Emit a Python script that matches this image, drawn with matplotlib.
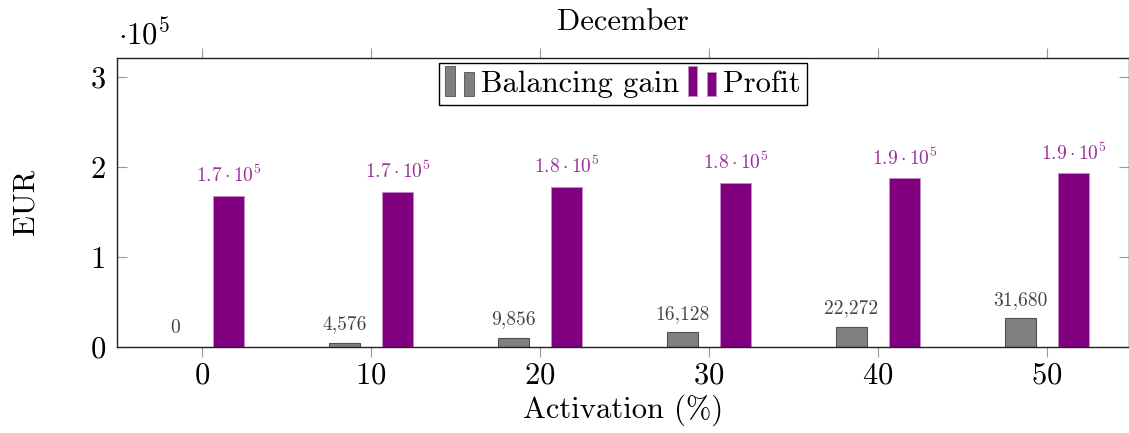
import matplotlib
matplotlib.use("Agg")
import matplotlib.pyplot as plt
import numpy as np
from matplotlib.patches import Rectangle, Patch
from matplotlib.legend_handler import HandlerBase
from matplotlib.ticker import FuncFormatter

# Data (EUR)
activation = [0, 10, 20, 30, 40, 50]
balancing_gain = [0, 4576, 9856, 16128, 22272, 31680]
profit = [168000, 172600, 177500, 182200, 187400, 193000]
series_names = ["Balancing gain", "Profit"]

plt.rcParams.update({
    "font.family": "serif",
    "font.serif": ["cmr10"],
    "mathtext.fontset": "cm",
    "axes.formatter.use_mathtext": True,
    "axes.unicode_minus": False,
})

GRAY, GRAY_EDGE, GRAY_TXT = "#808080", "#505050", "#444444"
PURPLE, PURPLE_EDGE, PURPLE_TXT = "#800080", "#c58ac5", "#9a2f9a"
BIG, SMALL = 22, 14

W, H = 1129, 433
fig = plt.figure(figsize=(W / 100, H / 100), dpi=100)
ax = fig.add_axes([117 / W, 1 - 347 / H, (1129 - 117) / W, (347 - 58) / H])

x = np.array(activation, dtype=float)
bw, off = 1.83, 1.57
ax.bar(x - off, balancing_gain, bw, color=GRAY, edgecolor=GRAY_EDGE, linewidth=0.8, zorder=2)
ax.bar(x + off, profit, bw, color=PURPLE, edgecolor=PURPLE_EDGE, linewidth=0.6, zorder=2)

for xi, v in zip(x, balancing_gain):
    ax.annotate(f"{v:,}", xy=(xi - off, v), xytext=(0, 7), textcoords="offset points",
                ha="center", va="bottom", fontsize=SMALL, color=GRAY_TXT)
for xi, v in zip(x, profit):
    ax.annotate(rf"${v / 1e5:.1f}\cdot10^{{5}}$", xy=(xi + off, v), xytext=(0, 7),
                textcoords="offset points", ha="center", va="bottom", fontsize=SMALL,
                color=PURPLE_TXT)

ax.set_xlim(-5.03, 54.85)
ax.set_ylim(0, 3.21e5)
ax.set_xticks(activation)
ax.set_yticks([0, 1e5, 2e5, 3e5])
ax.yaxis.set_major_formatter(FuncFormatter(lambda v, p: f"{v / 1e5:g}"))

ax.tick_params(axis="x", direction="out", length=7.2, width=0.8, color="#999999",
               top=True, labeltop=False, labelsize=BIG, pad=4)
ax.tick_params(axis="y", direction="in", length=7.2, width=0.8, color="#999999",
               right=True, labelsize=BIG, pad=8)
for s in ax.spines.values():
    s.set_color("#222222")
    s.set_linewidth(1.0)


class TwoBarHandler(HandlerBase):
    """Legend key drawn as a pair of small bars."""

    def create_artists(self, legend, orig_handle, xdescent, ydescent, width, height,
                       fontsize, trans):
        fc = orig_handle.get_facecolor()
        ec = orig_handle.get_edgecolor()
        bw_ = width * 0.3
        x0 = -xdescent
        y0 = -ydescent - 0.15 * height
        r1 = Rectangle((x0, y0), bw_, height * 1.3, facecolor=fc, edgecolor=ec,
                       linewidth=0.6, transform=trans)
        r2 = Rectangle((x0 + width * 0.62, y0), bw_, height * 1.05, facecolor=fc,
                       edgecolor=ec, linewidth=0.6, transform=trans)
        return [r1, r2]


h1 = Patch(facecolor=GRAY, edgecolor=GRAY_EDGE)
h2 = Patch(facecolor=PURPLE, edgecolor=PURPLE_EDGE)
handler = TwoBarHandler()
leg = ax.legend([h1, h2], series_names, loc="upper center", bbox_to_anchor=(0.5, 1.0),
                ncol=2, fontsize=BIG, frameon=True, fancybox=False, framealpha=1,
                edgecolor="black", borderaxespad=0.16, borderpad=0.22,
                handlelength=1.0, handleheight=0.8, handletextpad=0.15,
                columnspacing=0.3, handler_map={h1: handler, h2: handler})
leg.get_frame().set_linewidth(1.0)

fig.text(623 / W, 1 - 22 / H, "December", ha="center", va="center", fontsize=BIG)
fig.text(623 / W, 1 - 410 / H, "Activation (%)", ha="center", va="center", fontsize=BIG)
fig.text(26 / W, 1 - 202 / H, "EUR", ha="center", va="center", rotation=90, fontsize=BIG)
fig.text(118 / W, 1 - 45 / H, r"$\cdot10^{5}$", ha="left", va="baseline", fontsize=BIG)

fig.savefig("out.png", dpi=100)
